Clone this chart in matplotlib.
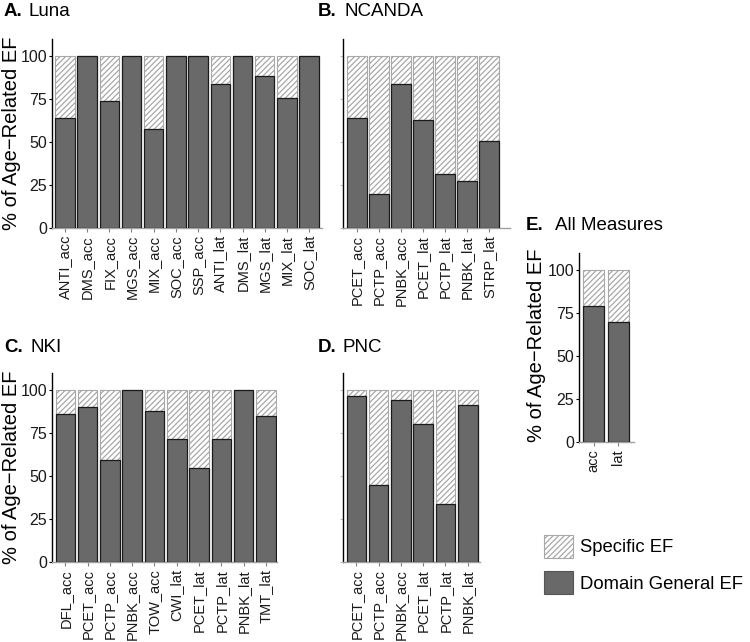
import numpy as np
import matplotlib
matplotlib.use('Agg')
import matplotlib.pyplot as plt
from matplotlib.patches import Patch

plt.rcParams['font.family'] = ['Liberation Sans', 'DejaVu Sans']
plt.rcParams['hatch.linewidth'] = 0.9

# % of age-related variance that is domain general (rest is specific EF)
luna_labels = ['ANTI_acc', 'DMS_acc', 'FIX_acc', 'MGS_acc', 'MIX_acc', 'SOC_acc',
               'SSP_acc', 'ANTI_lat', 'DMS_lat', 'MGS_lat', 'MIX_lat', 'SOC_lat']
luna_general = [63.8, 100, 73.9, 100, 57.4, 100, 100, 83.6, 100, 88.6, 75.4, 100]

ncanda_labels = ['PCET_acc', 'PCTP_acc', 'PNBK_acc', 'PCET_lat', 'PCTP_lat',
                 'PNBK_lat', 'STRP_lat']
ncanda_general = [63.8, 19.9, 84.1, 62.9, 31.3, 27.1, 50.7]

nki_labels = ['DFL_acc', 'PCET_acc', 'PCTP_acc', 'PNBK_acc', 'TOW_acc',
              'CWI_lat', 'PCET_lat', 'PCTP_lat', 'PNBK_lat', 'TMT_lat']
nki_general = [85.9, 90.5, 59.4, 100, 87.8, 71.6, 54.7, 71.6, 100, 84.9]

pnc_labels = ['PCET_acc', 'PCTP_acc', 'PNBK_acc', 'PCET_lat', 'PCTP_lat', 'PNBK_lat']
pnc_general = [96.9, 44.9, 94.2, 80.3, 33.7, 91.1]

all_labels = ['acc', 'lat']
all_general = [79.3, 70.0]

DARK = '#696969'
HATCH_EDGE = '#a8a8a8'
W, H = 750, 642
YLABEL = '% of Age\u2212Related EF'
XTICK_FS = 10.5
YTICK_FS = 11.5


def make_ax(fig, x0, x1, y0, y1):
    # pixel box -> figure fraction
    return fig.add_axes([x0 / W, 1 - y1 / H, (x1 - x0) / W, (y1 - y0) / H])


def stacked(ax, labels, general, xlim, width=0.88, ylab=True):
    x = np.arange(len(labels))
    general = np.array(general)
    specific = 100 - general
    ax.bar(x, specific, width, bottom=general, color='white', hatch='//////',
           edgecolor=HATCH_EDGE, linewidth=0.8, zorder=2)
    ax.bar(x, general, width, color=DARK, edgecolor='#1a1a1a', linewidth=0.9, zorder=3)
    ax.set_xlim(*xlim)
    ax.set_ylim(0, 110)
    ax.set_yticks([0, 25, 50, 75, 100])
    ax.set_xticks(x)
    ax.set_xticklabels(labels, rotation=90, fontsize=XTICK_FS, color='#1a1a1a')
    for s in ['top', 'right']:
        ax.spines[s].set_visible(False)
    ax.spines['left'].set_color('black')
    ax.spines['left'].set_linewidth(1.0)
    ax.spines['bottom'].set_color('#a0a0a0')
    ax.spines['bottom'].set_linewidth(1.0)
    ax.tick_params(axis='x', length=3, color='#808080', pad=2)
    if ylab:
        ax.tick_params(axis='y', length=2.5, color='black', labelsize=YTICK_FS,
                       labelcolor='#1a1a1a', pad=1)
    else:
        ax.tick_params(axis='y', length=2.5, color='#c0c0c0', labelleft=False)


def title(fig, x, y, letter, text, gap):
    fig.text(x / W, 1 - y / H, letter, fontsize=13.5, fontweight='bold', va='center')
    fig.text((x + gap) / W, 1 - y / H, text, fontsize=13.5, va='center')


def ylabel(fig, x, y):
    fig.text(x / W, 1 - y / H, YLABEL, fontsize=14.5, rotation=90,
             ha='center', va='center')


fig = plt.figure(figsize=(7.5, 6.42), dpi=100)

ax_a = make_ax(fig, 52, 322, 39, 228)
stacked(ax_a, luna_labels, luna_general, (-0.58, 11.58))

ax_b = make_ax(fig, 343, 510, 39, 228)
stacked(ax_b, ncanda_labels, ncanda_general, (-0.64, 6.95), ylab=False)

ax_c = make_ax(fig, 52, 277, 373, 562)
stacked(ax_c, nki_labels, nki_general, (-0.6, 9.5))

ax_d = make_ax(fig, 343, 480, 373, 562)
stacked(ax_d, pnc_labels, pnc_general, (-0.6, 5.55), ylab=False)

ax_e = make_ax(fig, 579, 634, 253, 442)
stacked(ax_e, all_labels, all_general, (-0.6, 1.65), width=0.86)

ylabel(fig, 12, 133)
ylabel(fig, 12, 467)
ylabel(fig, 537, 345)

title(fig, 4, 12, 'A.', 'Luna', 25)
title(fig, 318, 12, 'B.', 'NCANDA', 26)
title(fig, 4, 348, 'C.', 'NKI', 26)
title(fig, 318, 348, 'D.', 'PNC', 25)
title(fig, 526, 225, 'E.', 'All Measures', 29)

handles = [Patch(facecolor='white', hatch='//////', edgecolor=HATCH_EDGE, linewidth=0.8),
           Patch(facecolor=DARK, edgecolor='#555555', linewidth=0.8)]
fig.legend(handles, ['Specific EF', 'Domain General EF'], loc='upper left',
           bbox_to_anchor=(544 / W, 1 - 535 / H), frameon=False, fontsize=13.3,
           borderpad=0, borderaxespad=0, handlelength=1.55, handleheight=1.5,
           labelspacing=0.75, handletextpad=0.4)

fig.savefig('out.png', dpi=100)
